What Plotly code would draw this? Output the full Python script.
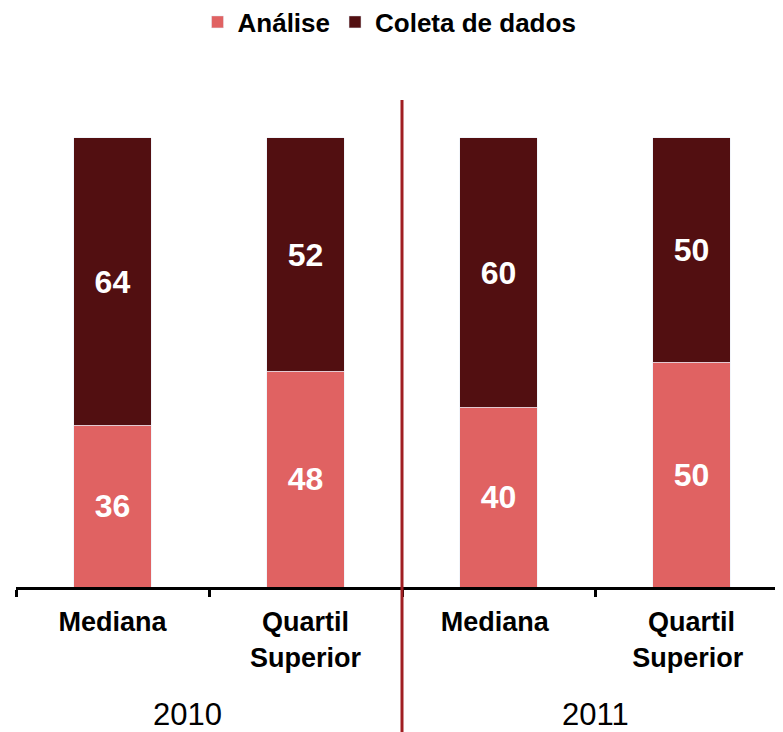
import plotly.graph_objects as go

categories = ["Mediana", "Quartil<br>Superior", "Mediana ", "Quartil<br>Superior "]
analise = [36, 48, 40, 50]
coleta = [64, 52, 60, 50]
years = ["2010", "2011"]

C_ANALISE = "#E06262"
C_COLETA = "#520F11"
FONT = "Liberation Sans, Arial, sans-serif"

# page body has an 8px margin, so figure coordinates = screen - 8
W, H = 783, 732
ML, MR, MT, MB = 8, 8, 92, 152.5
plot_w = W - ML - MR
cat_px = 193.0
x_lo = -0.5
x_hi = x_lo + plot_w / cat_px

fig = go.Figure()
for name, vals, col in [("Análise", analise, C_ANALISE), ("Coleta de dados", coleta, C_COLETA)]:
    fig.add_trace(go.Bar(
        name=name, x=categories, y=vals, marker_color=col,
        width=0.4, texttemplate="%{y}", textposition="inside",
        insidetextanchor="middle", textangle=0,
        textfont=dict(color="white", size=32, family=FONT, weight="bold"),
    ))

plot_h = H - MT - MB
bar_px = 449.5
y_hi = 100 * plot_h / bar_px

sep_x = (1.5 - x_lo) / (x_hi - x_lo)
fig.add_shape(type="line", xref="paper", yref="paper",
              x0=sep_x, x1=sep_x, y0=-MB / plot_h - 0.05, y1=1.0,
              line=dict(color="#A01E22", width=3))

year_pos = [0.39, 2.5]
for yr, xp in zip(years, year_pos):
    fig.add_annotation(text=yr, x=xp, xref="x", y=(579.5 - 707) / plot_h, yref="paper",
                       showarrow=False, yanchor="middle", xanchor="center",
                       font=dict(size=31, family=FONT, color="black"))

fig.update_layout(
    barmode="stack",
    width=W, height=H,
    margin=dict(l=ML, r=MR, t=MT, b=MB, autoexpand=False),
    plot_bgcolor="white", paper_bgcolor="white",
    showlegend=True,
    legend=dict(orientation="h", x=0.487, xanchor="center", yref="container",
                y=1 - 14 / H, yanchor="middle",
                font=dict(size=26, family=FONT, color="black", weight="bold"),
                traceorder="normal", itemclick=False),
    xaxis=dict(range=[x_lo, x_hi], showline=True, linecolor="black", linewidth=3,
               ticks="outside", tickson="boundaries", ticklen=7, tickwidth=3,
               tickcolor="black", showgrid=False, ticklabelstandoff=9,
               tickfont=dict(size=27, family=FONT, color="black", weight="bold")),
    yaxis=dict(range=[0, y_hi], visible=False, showgrid=False),
)

fig.write_html("out.html")
